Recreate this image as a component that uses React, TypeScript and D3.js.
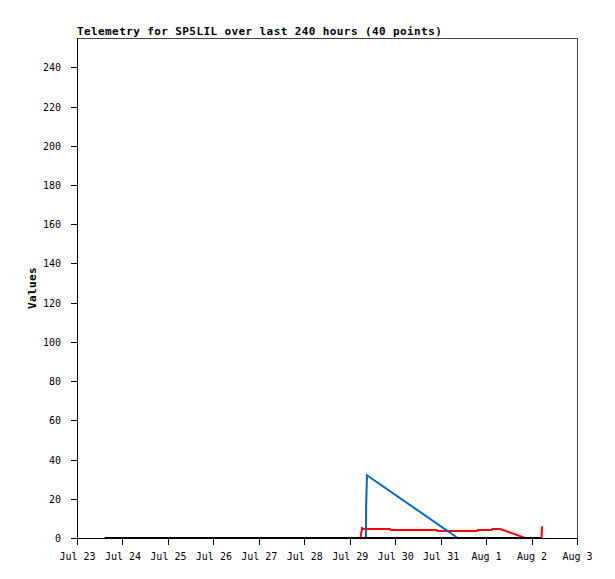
import React from 'react'
import * as d3 from 'd3'

const title = 'Telemetry for SP5LIL over last 240 hours (40 points)'
const yLabel = 'Values'

const xStart = '2021-07-23T00:00:00Z'
const xEnd = '2021-08-03T00:00:00Z'
const yTicks = [0, 20, 40, 60, 80, 100, 120, 140, 160, 180, 200, 220, 240]

const blackTimes = ['2021-07-23T14:36:00Z', '2021-08-02T04:48:00Z']
const blackValues = [0, 0]

const blueTimes = ['2021-07-29T08:34:00Z', '2021-07-29T08:40:00Z', '2021-07-29T09:06:00Z', '2021-07-31T09:01:00Z']
const blueValues = [0, 16, 32, 0]

const redTimes = [
  '2021-07-29T05:38:00Z', '2021-07-29T06:04:00Z', '2021-07-29T06:29:00Z', '2021-07-29T07:12:00Z',
  '2021-07-29T21:14:00Z', '2021-07-29T21:46:00Z', '2021-07-30T21:53:00Z', '2021-07-30T22:19:00Z',
  '2021-07-31T19:12:00Z', '2021-07-31T19:41:00Z', '2021-08-01T02:53:00Z', '2021-08-01T03:22:00Z',
  '2021-08-01T07:26:00Z', '2021-08-01T20:38:00Z', '2021-08-02T05:17:00Z', '2021-08-02T05:31:00Z',
]
const redValues = [0, 2.5, 5, 4.6, 4.6, 4.1, 4.1, 3.6, 3.6, 4.1, 4.1, 4.6, 4.6, 0, 0, 6]

const width = 615
const height = 579
const left = 77
const right = 577
const top = 38
const bottom = 538

export default function App() {
  const x = d3.scaleUtc().domain([new Date(xStart), new Date(xEnd)]).range([left, right])
  const y = d3.scaleLinear().domain([0, 255]).range([bottom, top])
  const fmt = d3.utcFormat('%b %-d')
  const xTicks = d3.utcDay.range(new Date(xStart), d3.utcDay.offset(new Date(xEnd), 1))

  const line = d3.line<[string, number]>()
    .x(d => x(new Date(d[0])))
    .y(d => y(d[1]))

  const series = [
    { times: redTimes, values: redValues, color: '#ff0000' },
    { times: blueTimes, values: blueValues, color: '#0066cc' },
    { times: blackTimes, values: blackValues, color: '#000000' },
  ]

  const mono = '"DejaVu Sans Mono", monospace'

  return (
    <div style={{ position: 'absolute', left: 0, top: 0 }}>
      <svg width={width} height={height} style={{ display: 'block', background: '#fff' }}>
        <text x={left} y={35} fontFamily={mono} fontWeight="bold" fontSize={11} letterSpacing={0.4}>
          {title}
        </text>
        <text
          transform={`translate(36,${(top + bottom) / 2}) rotate(-90)`}
          textAnchor="middle"
          fontFamily={mono}
          fontWeight="bold"
          fontSize={11}
          letterSpacing={0.4}
        >
          {yLabel}
        </text>

        <line x1={left} x2={right + 0.5} y1={top + 0.5} y2={top + 0.5} stroke="#444" />
        <line x1={right + 0.5} x2={right + 0.5} y1={top} y2={bottom} stroke="#444" />

        {series.map((s, i) => (
          <path
            key={i}
            d={line(s.times.map((t, j) => [t, s.values[j]] as [string, number])) || ''}
            fill="none"
            stroke={s.color}
            strokeWidth={2}
          />
        ))}

        <line x1={left + 0.5} x2={left + 0.5} y1={top} y2={bottom + 1} stroke="#000" />
        <line x1={left} x2={right + 1} y1={bottom + 0.5} y2={bottom + 0.5} stroke="#000" />

        {yTicks.map(t => (
          <g key={t}>
            <line x1={left - 6} x2={left} y1={Math.round(y(t)) + 0.5} y2={Math.round(y(t)) + 0.5} stroke="#000" />
            <text
              x={61}
              y={Math.round(y(t)) + 1}
              textAnchor="end"
              dominantBaseline="middle"
              fontFamily={mono}
              fontSize={10}
            >
              {t}
            </text>
          </g>
        ))}

        {xTicks.map(t => (
          <g key={t.getTime()}>
            <line x1={Math.round(x(t)) + 0.5} x2={Math.round(x(t)) + 0.5} y1={bottom} y2={bottom + 7} stroke="#000" />
            <text x={x(t) + 0.5} y={560} textAnchor="middle" fontFamily={mono} fontSize={10}>
              {fmt(t)}
            </text>
          </g>
        ))}
      </svg>
    </div>
  )
}
